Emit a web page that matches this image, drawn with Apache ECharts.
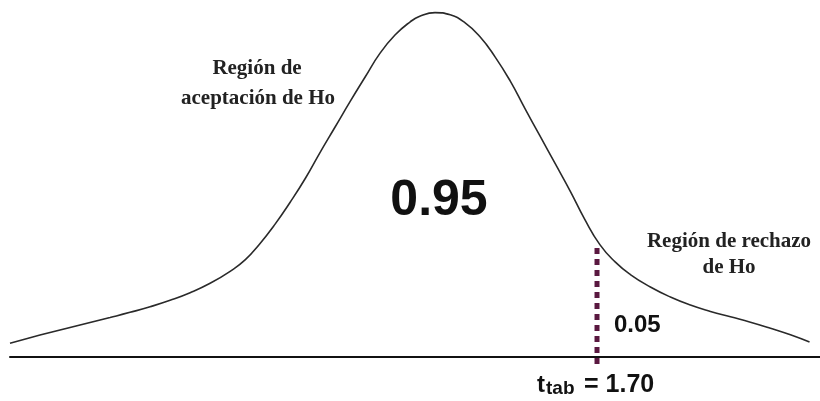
<!DOCTYPE html>
<html>
<head>
<meta charset="utf-8">
<script src="https://cdn.jsdelivr.net/npm/echarts@6/dist/echarts.min.js"></script>
<style>
  html, body { margin: 0; padding: 0; background: #fff; }
  #container { width: 820px; height: 401px; }
</style>
</head>
<body>
<div id="container"></div>
<script>
var dom = document.getElementById("container");
var myChart = echarts.init(dom);

// valores t (eje horizontal)
var tValues = [-4.46, -4.25, -4.04, -3.83, -3.62, -3.41, -3.20, -2.99, -2.78, -2.57,
    -2.36, -2.15, -1.99, -1.84, -1.68, -1.52, -1.36, -1.21, -1.05, -0.89,
    -0.73, -0.58, -0.42, -0.26, -0.16, 0, 0.16, 0.31, 0.47, 0.63,
    0.79, 0.94, 1.10, 1.26, 1.42, 1.57, 1.73, 1.89, 2.05, 2.26,
    2.47, 2.68, 2.89, 3.10, 3.31, 3.52, 3.73, 3.93];
// altura de la curva en cada t
var density = [0.0162, 0.0225, 0.0285, 0.0343, 0.0401, 0.0459, 0.0519, 0.0584, 0.0659, 0.0747,
    0.0856, 0.0995, 0.1130, 0.1312, 0.1539, 0.1796, 0.2074, 0.2366, 0.2665, 0.2965,
    0.3253, 0.3518, 0.3734, 0.3887, 0.3951, 0.3994, 0.3968, 0.3880, 0.3716, 0.3481,
    0.3199, 0.2889, 0.2567, 0.2245, 0.1922, 0.1600, 0.1304, 0.1104, 0.0957, 0.0813,
    0.0697, 0.0604, 0.0530, 0.0467, 0.0405, 0.0335, 0.0259, 0.0175];

var tTab = 1.70;
var tTabRange = [-0.008, 0.132]; // linea punteada: de abajo del eje hasta la curva

var curveData = [];
for (var i = 0; i < tValues.length; i++) {
    curveData.push([tValues[i], density[i]]);
}

var serif = '"Liberation Serif", "DejaVu Serif", serif';
var sans = '"Liberation Sans", Arial, sans-serif';

option = {
    backgroundColor: '#fff',
    animation: false,
    grid: {
        left: 10,
        right: 0,
        top: 0,
        bottom: 18
    },
    xAxis: {
        type: 'value',
        min: -4.46,
        max: 4.04,
        axisLine: {
            show: true,
            onZero: true,
            lineStyle: { color: '#111', width: 2 }
        },
        axisTick: { show: false },
        axisLabel: { show: false },
        splitLine: { show: false }
    },
    yAxis: {
        type: 'value',
        min: -0.03,
        max: 0.414,
        show: false,
        splitLine: { show: false }
    },
    series: [
        {
            name: 'curva',
            type: 'line',
            data: curveData,
            smooth: 0.5,
            symbol: 'none',
            lineStyle: { color: '#2a2a2a', width: 1.6 },
            z: 2
        },
        {
            name: 'ttab',
            type: 'line',
            data: [[tTab, tTabRange[0]], [tTab, tTabRange[1]]],
            symbol: 'none',
            lineStyle: { color: '#5a1840', width: 5, type: [6, 5], cap: 'butt' },
            z: 3
        }
    ],
    graphic: [
        {
            type: 'text', x: 257, y: 69,
            style: { text: 'Región de', font: 'bold 21px ' + serif, fill: '#222', align: 'center', verticalAlign: 'middle' }
        },
        {
            type: 'text', x: 258, y: 99,
            style: { text: 'aceptación de Ho', font: 'bold 21px ' + serif, fill: '#222', align: 'center', verticalAlign: 'middle' }
        },
        {
            type: 'text', x: 439, y: 201,
            style: { text: '0.95', font: 'bold 50px ' + sans, fill: '#111', align: 'center', verticalAlign: 'middle' }
        },
        {
            type: 'text', x: 729, y: 242,
            style: { text: 'Región de rechazo', font: 'bold 21px ' + serif, fill: '#222', align: 'center', verticalAlign: 'middle' }
        },
        {
            type: 'text', x: 729, y: 268,
            style: { text: 'de Ho', font: 'bold 21px ' + serif, fill: '#222', align: 'center', verticalAlign: 'middle' }
        },
        {
            type: 'text', x: 614, y: 325,
            style: { text: '0.05', font: 'bold 24px ' + sans, fill: '#111', align: 'left', verticalAlign: 'middle' }
        },
        {
            type: 'text', x: 537, y: 385,
            style: { text: 't', font: 'bold 24px ' + sans, fill: '#111', align: 'left', verticalAlign: 'middle' }
        },
        {
            type: 'text', x: 546, y: 389,
            style: { text: 'tab', font: 'bold 19px ' + sans, fill: '#111', align: 'left', verticalAlign: 'middle' }
        },
        {
            type: 'text', x: 584, y: 385,
            style: { text: '= 1.70', font: 'bold 25px ' + sans, fill: '#111', align: 'left', verticalAlign: 'middle' }
        }
    ]
};

if (option && typeof option === "object") {
    myChart.setOption(option, true);
}
</script>
</body>
</html>
